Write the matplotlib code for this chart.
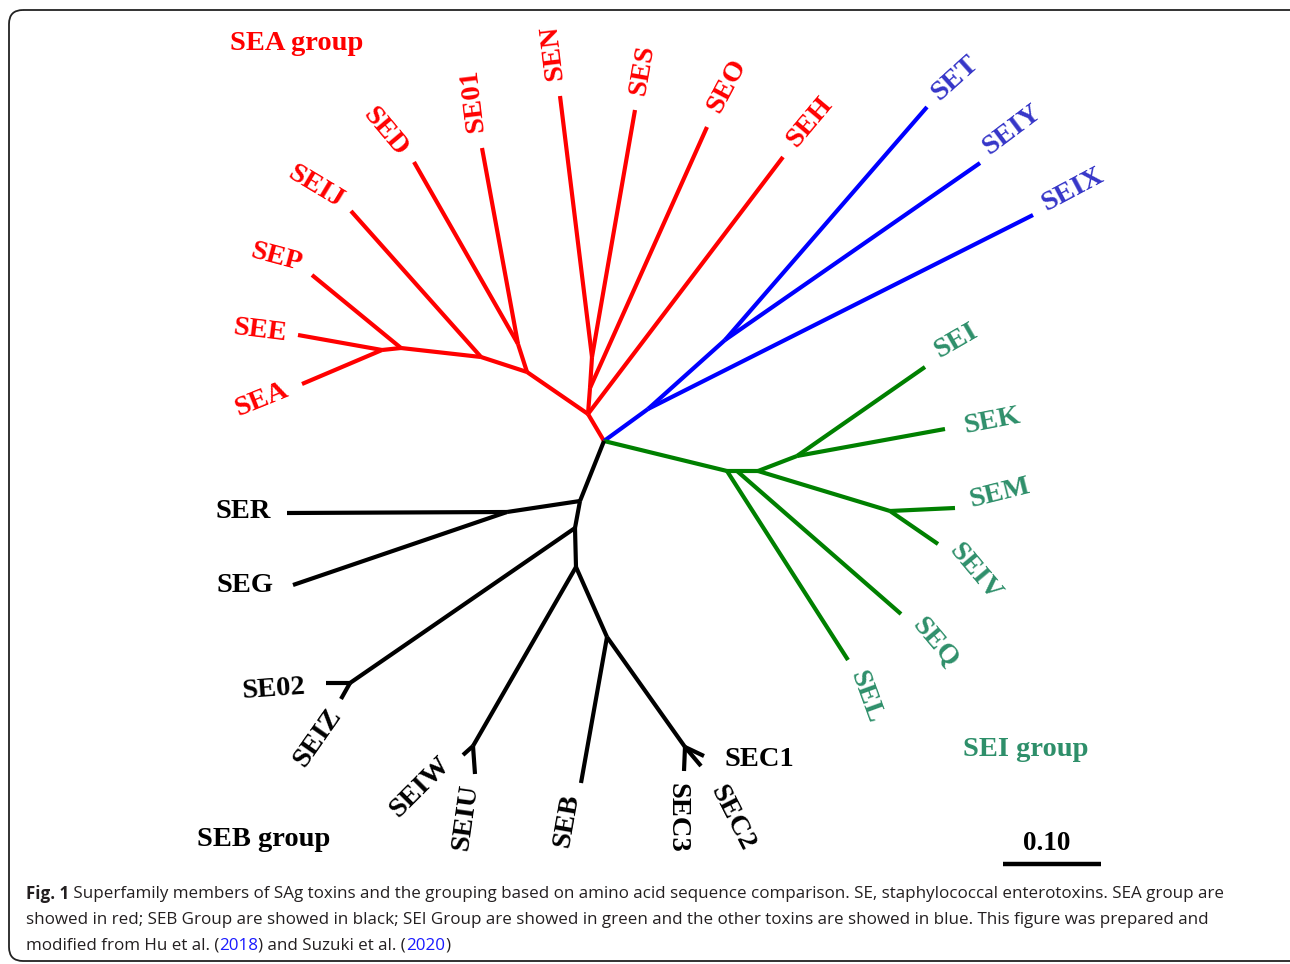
import matplotlib
matplotlib.use("Agg")
import matplotlib.pyplot as plt
from matplotlib.patches import FancyBboxPatch

# tree nodes (x, y on the page grid, y grows downwards)
node_names = ["root", "r1", "r2", "r3", "SEN", "SES", "SEO", "SEH",
              "rl1", "rld", "SED", "SE01", "rl2", "SEIJ", "rl3", "SEP", "rl4", "SEE", "SEA",
              "b1", "SEIX", "b2", "SET", "SEIY",
              "g1", "SEL", "g1b", "SEQ", "g2", "g3", "SEI", "SEK", "g4", "SEM", "SEIV",
              "k1", "k2", "SER", "SEG", "k3", "k5", "SE02", "SEIZ", "k4", "k6", "SEIW", "SEIU",
              "k7", "SEB", "k8", "SEC1", "SEC2", "SEC3"]
node_x = [604, 588, 590, 592, 560, 635, 707, 783,
          527, 518, 414, 482, 481, 351, 401, 312, 382, 298, 302,
          648, 1033, 725, 927, 980,
          727, 848, 737, 901, 758, 797, 925, 945, 890, 955, 938,
          580, 507, 287, 293, 575, 350, 326, 341, 576, 473, 463, 475,
          607, 581, 685, 704, 701, 684]
node_y = [441, 414, 388, 357, 96, 110, 127, 157,
          372, 344, 162, 148, 357, 211, 348, 275, 350, 335, 384,
          409, 215, 340, 107, 163,
          471, 660, 471, 614, 471, 456, 367, 429, 511, 508, 544,
          501, 512, 513, 585, 528, 683, 683, 699, 567, 746, 755, 774,
          637, 783, 747, 756, 766, 771]

# branches: parent, child, group
edges = [("root", "r1", "A"), ("r1", "r2", "A"), ("r2", "r3", "A"),
         ("r3", "SEN", "A"), ("r3", "SES", "A"), ("r2", "SEO", "A"), ("r1", "SEH", "A"),
         ("r1", "rl1", "A"), ("rl1", "rld", "A"), ("rld", "SED", "A"), ("rld", "SE01", "A"),
         ("rl1", "rl2", "A"), ("rl2", "SEIJ", "A"), ("rl2", "rl3", "A"), ("rl3", "SEP", "A"),
         ("rl3", "rl4", "A"), ("rl4", "SEE", "A"), ("rl4", "SEA", "A"),
         ("root", "b1", "X"), ("b1", "SEIX", "X"), ("b1", "b2", "X"),
         ("b2", "SET", "X"), ("b2", "SEIY", "X"),
         ("root", "g1", "I"), ("g1", "SEL", "I"), ("g1", "g1b", "I"), ("g1b", "SEQ", "I"),
         ("g1b", "g2", "I"), ("g2", "g3", "I"), ("g3", "SEI", "I"), ("g3", "SEK", "I"),
         ("g2", "g4", "I"), ("g4", "SEM", "I"), ("g4", "SEIV", "I"),
         ("root", "k1", "B"), ("k1", "k2", "B"), ("k2", "SER", "B"), ("k2", "SEG", "B"),
         ("k1", "k3", "B"), ("k3", "k5", "B"), ("k5", "SE02", "B"), ("k5", "SEIZ", "B"),
         ("k3", "k4", "B"), ("k4", "k6", "B"), ("k6", "SEIW", "B"), ("k6", "SEIU", "B"),
         ("k4", "k7", "B"), ("k7", "SEB", "B"), ("k7", "k8", "B"),
         ("k8", "SEC1", "B"), ("k8", "SEC2", "B"), ("k8", "SEC3", "B")]

# leaf labels: text, group, label centre, rotation
leaf_labels = ["SEA", "SEE", "SEP", "SEIJ", "SED", "SE01", "SEN", "SES", "SEO", "SEH",
               "SET", "SEIY", "SEIX",
               "SEI", "SEK", "SEM", "SEIV", "SEQ", "SEL",
               "SEC1", "SEC2", "SEC3", "SEB", "SEIU", "SEIW", "SEIZ", "SE02", "SEG", "SER"]
leaf_group = ["A"] * 10 + ["X"] * 3 + ["I"] * 6 + ["B"] * 10
leaf_x = [262, 260, 276, 316, 385, 473, 553, 643, 727, 810,
          955, 1012, 1073,
          956, 992, 1000, 975, 935, 866,
          759, 732, 677, 567, 466, 420, 318, 274, 245, 243]
leaf_y = [400, 331, 257, 187, 132, 100, 52, 70, 86, 122,
          78, 130, 190,
          341, 421, 493, 572, 643, 697,
          759, 818, 818, 820, 817, 787, 738, 689, 586, 512]
leaf_rot = [22, -7, -15, -31, -50, 97, 97, 80, 62, 50,
            42, 37, 28,
            30, 11, 14, -50, -50, -70,
            0, -63, -90, 80, 82, 45, 55, 4, 0, 0]

group_names = ["SEA group", "SEB group", "SEI group"]
group_keys = ["A", "B", "I"]
group_x = [297, 264, 1026]
group_y = [43, 839, 749]

line_colors = {"A": "#ff0000", "X": "#0000ff", "I": "#008000", "B": "#000000"}
text_colors = {"A": "#ff0000", "X": "#3535c8", "I": "#2e8f6a", "B": "#000000"}

caption_lines = [
    [("Fig. 1", "bold", "#231f20"),
     (" Superfamily members of SAg toxins and the grouping based on amino acid sequence "
      "comparison. SE, staphylococcal enterotoxins. SEA group are", "normal", "#231f20")],
    [("showed in red; SEB Group are showed in black; SEI Group are showed in green and the "
      "other toxins are showed in blue. This figure was prepared and", "normal", "#231f20")],
    [("modified from Hu et al. (", "normal", "#231f20"), ("2018", "normal", "#1a1aff"),
     (") and Suzuki et al. (", "normal", "#231f20"), ("2020", "normal", "#1a1aff"),
     (")", "normal", "#231f20")],
]

fig = plt.figure(figsize=(12.9, 9.64), dpi=100)
ax = fig.add_axes([0, 0, 1, 1])
ax.set_xlim(0, 1290)
ax.set_ylim(964, 0)
ax.axis("off")

# rounded frame
frame = FancyBboxPatch((9, 10), 1300, 951, boxstyle="round,pad=0,rounding_size=14",
                       fc="none", ec="#222222", lw=1.3)
ax.add_patch(frame)

pos = {n: (x, y) for n, x, y in zip(node_names, node_x, node_y)}
for a, b, g in edges:
    ax.plot([pos[a][0], pos[b][0]], [pos[a][1], pos[b][1]], color=line_colors[g],
            lw=3.0, solid_capstyle="butt", solid_joinstyle="round")

serif = dict(family="Liberation Serif", weight="bold")
for t, g, x, y, r in zip(leaf_labels, leaf_group, leaf_x, leaf_y, leaf_rot):
    ax.text(x, y, t, color=text_colors[g], fontsize=20.5, rotation=r,
            rotation_mode="anchor", ha="center", va="center", **serif)

for t, g, x, y in zip(group_names, group_keys, group_x, group_y):
    ax.text(x, y, t, color=text_colors[g], fontsize=20.5, ha="center", va="center", **serif)

# scale bar
ax.plot([1003, 1101], [864, 864], color="black", lw=3.2, solid_capstyle="butt")
ax.text(1047, 844, "0.10", fontsize=19.5, ha="center", va="center", **serif)

# caption, each line laid out piece by piece
renderer = fig.canvas.get_renderer()
cap_font = ["Open Sans", "DejaVu Sans"]


def line_width(parts, size):
    total = 0
    for txt, wt, col in parts:
        t = ax.text(0, 0, txt, fontsize=size, family=cap_font, weight=wt)
        total += t.get_window_extent(renderer).width
        t.remove()
    return total


cap_size = 13.0
cap_size = cap_size * 1194 / line_width(caption_lines[0], cap_size)

for i, parts in enumerate(caption_lines):
    x = 26
    y = 894 + 26 * i
    for txt, wt, col in parts:
        t = ax.text(x, y, txt, fontsize=cap_size, family=cap_font, weight=wt,
                    color=col, ha="left", va="center")
        x += t.get_window_extent(renderer).width

fig.savefig("out.png", dpi=100)
